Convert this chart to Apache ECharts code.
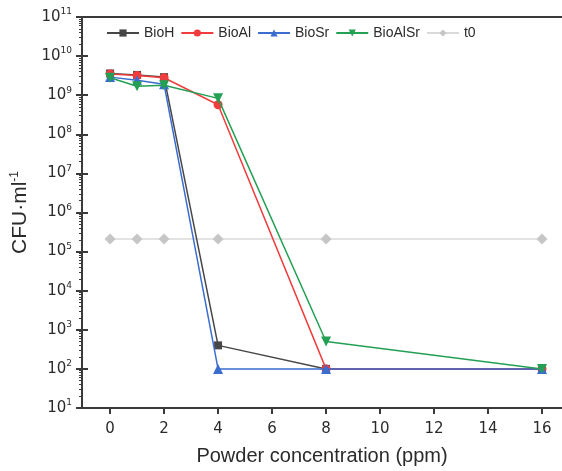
<!DOCTYPE html>
<html>
<head>
<meta charset="utf-8">
<style>
  html, body { margin: 0; padding: 0; background: #fff; }
  #chart { width: 562px; height: 471px; }
</style>
<script src="https://cdn.jsdelivr.net/npm/echarts@6/dist/echarts.min.js"></script>
</head>
<body>
<div id="chart"></div>
<script>
// Powder concentrations (ppm) at which colonies were counted
const concentrations = [0, 1, 2, 4, 8, 16];

// Viable counts (CFU/ml) for each powder
const bioH    = [3.6e9, 3.3e9, 2.9e9, 4.0e2, 1.0e2, 1.0e2];
const bioAl   = [3.5e9, 3.2e9, 2.8e9, 5.7e8, 1.0e2, 1.0e2];
const bioSr   = [2.9e9, 2.4e9, 1.9e9, 1.0e2, 1.0e2, 1.0e2];
const bioAlSr = [2.8e9, 1.7e9, 1.8e9, 8.3e8, 5.0e2, 1.0e2];
const t0      = [2.1e5, 2.1e5, 2.1e5, 2.1e5, 2.1e5, 2.1e5];

// Axis tick labels
const xTickValues = [0, 2, 4, 6, 8, 10, 12, 14, 16];
const yExponents = [1, 2, 3, 4, 5, 6, 7, 8, 9, 10, 11];

const FONT = 'Liberation Sans, Arial, Helvetica, sans-serif';
const TICK_FONT = 'DejaVu Sans, Liberation Sans, sans-serif';
const AXIS_COLOR = '#3a3a3a';
const TEXT_COLOR = '#2b2b2b';

// minor tick positions (2..9 x 10^n) in decade units
const minorTicks = [];
for (let e = 1; e < 11; e++) {
  for (let k = 2; k <= 9; k++) minorTicks.push(e + Math.log10(k));
}

const pairs = (ys) => concentrations.map((x, i) => [x, ys[i]]);

function lineSeries(name, ys, color, symbol, size, z) {
  return {
    name: name,
    type: 'line',
    data: pairs(ys),
    xAxisIndex: 0,
    yAxisIndex: 0,
    symbol: symbol,
    symbolSize: size,
    z: z,
    lineStyle: { color: color, width: 1.5 },
    itemStyle: { color: color },
    emphasis: { disabled: true }
  };
}

const chart = echarts.init(document.getElementById('chart'), null, { renderer: 'canvas' });

chart.setOption({
  animation: false,
  backgroundColor: '#ffffff',
  textStyle: { fontFamily: FONT },
  grid: { left: 82, top: 17, right: 0, bottom: 61, containLabel: false },
  legend: {
    top: 21,
    left: 101,
    itemWidth: 32,
    itemHeight: 9,
    itemGap: 6,
    data: ['BioH', 'BioAl', 'BioSr', 'BioAlSr', 't0'],
    textStyle: { fontFamily: FONT, fontSize: 14, color: TEXT_COLOR }
  },
  xAxis: [
    {
      type: 'value',
      min: -1.04,
      max: 16.74,
      name: 'Powder concentration (ppm)',
      nameLocation: 'middle',
      nameGap: 38,
      nameTextStyle: { fontFamily: FONT, fontSize: 20, color: TEXT_COLOR },
      splitLine: { show: false },
      axisLine: { show: true, onZero: false, lineStyle: { color: AXIS_COLOR, width: 2 } },
      axisTick: {
        show: true, inside: false, length: 6,
        customValues: xTickValues,
        lineStyle: { color: AXIS_COLOR, width: 2 }
      },
      axisLabel: {
        customValues: xTickValues,
        margin: 14,
        fontFamily: TICK_FONT, fontSize: 15, color: TEXT_COLOR
      }
    },
    {
      type: 'value',
      position: 'top',
      min: -1.04,
      max: 16.74,
      splitLine: { show: false },
      axisLine: { show: true, onZero: false, lineStyle: { color: AXIS_COLOR, width: 2 } },
      axisTick: { show: false },
      axisLabel: { show: false }
    }
  ],
  yAxis: [
    {
      type: 'log',
      logBase: 10,
      min: 10,
      max: 1e11,
      interval: 1,
      name: 'CFU·ml{s|-1}',
      nameLocation: 'middle',
      nameGap: 45,
      nameRotate: 90,
      nameTextStyle: {
        fontFamily: FONT, fontSize: 21, color: TEXT_COLOR,
        rich: { s: { fontFamily: FONT, fontSize: 12, color: TEXT_COLOR, verticalAlign: 'top', padding: [0, 0, 10, 0] } }
      },
      splitLine: { show: false },
      axisLine: { show: true, onZero: false, lineStyle: { color: AXIS_COLOR, width: 2 } },
      axisTick: { show: true, inside: false, length: 6, lineStyle: { color: AXIS_COLOR, width: 2 } },
      axisLabel: {
        margin: 10,
        formatter: function (v) {
          const n = Math.round(Math.log10(v));
          return '{b|10}{s|' + n + '}';
        },
        rich: {
          b: { fontFamily: TICK_FONT, fontSize: 15, color: TEXT_COLOR },
          s: { fontFamily: TICK_FONT, fontSize: 9, color: TEXT_COLOR, verticalAlign: 'top', padding: [0, 0, 10, 0] }
        }
      }
    },
    {
      // inner half of the major ticks
      type: 'value',
      min: 1,
      max: 11,
      position: 'left',
      splitLine: { show: false },
      axisLine: { show: false, onZero: false },
      axisLabel: { show: false },
      axisTick: {
        show: true, inside: true, length: 6,
        customValues: yExponents,
        lineStyle: { color: AXIS_COLOR, width: 2 }
      }
    },
    {
      // minor log ticks
      type: 'value',
      min: 1,
      max: 11,
      position: 'left',
      splitLine: { show: false },
      axisLine: { show: false, onZero: false },
      axisLabel: { show: false },
      axisTick: {
        show: true, inside: false, length: 3,
        customValues: minorTicks,
        lineStyle: { color: AXIS_COLOR, width: 1 }
      }
    }
  ],
  series: [
    lineSeries('BioH', bioH, '#474747', 'rect', 8, 3),
    lineSeries('BioAl', bioAl, '#f03c3c', 'circle', 9, 4),
    lineSeries('BioSr', bioSr, '#3b6ccf', 'triangle', 10, 5),
    Object.assign(lineSeries('BioAlSr', bioAlSr, '#23a053', 'triangle', 10, 6), { symbolRotate: 180 }),
    Object.assign(lineSeries('t0', t0, '#cccccc', 'diamond', 11, 2), {
      itemStyle: { color: '#c6c6c6' },
      lineStyle: { color: '#dadada', width: 1.5 }
    })
  ]
});
</script>
</body>
</html>
